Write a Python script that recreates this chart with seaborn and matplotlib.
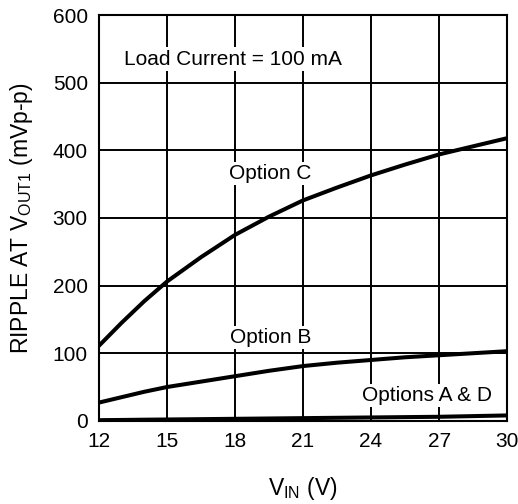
import matplotlib
matplotlib.use("Agg")
import matplotlib.pyplot as plt
import seaborn as sns
import pandas as pd

vin = [12, 13, 14, 15, 16.5, 18, 19.5, 21, 22.5, 24, 25.5, 27, 28.5, 30]
option_c = [111, 145, 177, 206, 242, 275, 302, 326, 345, 363, 379, 394, 406, 418]
option_b = [27, 35, 43, 50, 58, 66, 74, 81, 86, 90, 94, 97, 100, 103]
option_ad = [1, 1.3, 1.7, 2, 2.5, 3, 3.5, 4, 4.5, 5, 5.5, 6, 7, 8]

x_ticks = [12, 15, 18, 21, 24, 27, 30]
y_ticks = [0, 100, 200, 300, 400, 500, 600]

sns.set_theme(style="white")
plt.rcParams['font.family'] = ['Liberation Sans', 'DejaVu Sans']
plt.rcParams['mathtext.fontset'] = 'custom'
plt.rcParams['mathtext.rm'] = 'Liberation Sans'
plt.rcParams['mathtext.it'] = 'Liberation Sans'
plt.rcParams['text.color'] = 'black'
plt.rcParams['axes.labelcolor'] = 'black'

df = pd.concat([
    pd.DataFrame({"vin": vin, "ripple": option_c, "series": "Option C"}),
    pd.DataFrame({"vin": vin, "ripple": option_b, "series": "Option B"}),
    pd.DataFrame({"vin": vin, "ripple": option_ad, "series": "Options A & D"}),
])

fig = plt.figure(figsize=(5.18, 5.04), dpi=100)
ax = fig.add_axes([0.191, 0.165, 0.788, 0.805])

sns.lineplot(data=df, x="vin", y="ripple", units="series", estimator=None,
             color="black", linewidth=2.9, ax=ax, legend=False, zorder=3)

ax.set_xlim(12, 30)
ax.set_ylim(0, 600)
ax.set_xticks(x_ticks)
ax.set_yticks(y_ticks)
ax.set_xticklabels([str(t) for t in x_ticks])
ax.set_yticklabels([str(t) for t in y_ticks])
ax.grid(True, color="black", linewidth=1.4)
ax.set_axisbelow(True)
for s in ax.spines.values():
    s.set_color("black")
    s.set_linewidth(1.5)
ax.tick_params(axis="both", length=0, pad=8, labelsize=15, colors="black")

ax.set_xlabel(r"V$_{\mathrm{IN}}$ (V)", fontsize=16.5, labelpad=17, color="black")
ax.set_ylabel(r"RIPPLE AT V$_{\mathrm{OUT1}}$ (mVp-p)", fontsize=16.5, labelpad=13, color="black")

bbox = dict(facecolor="white", edgecolor="none", pad=1.5)
fs = 15
ax.text(13.1, 535, "Load Current = 100 mA", fontsize=fs, ha="left", va="center", color="black", bbox=bbox, zorder=4)
ax.text(19.57, 366, "Option C", fontsize=fs, ha="center", va="center", color="black", bbox=bbox, zorder=4)
ax.text(19.57, 123, "Option B", fontsize=fs, ha="center", va="center", color="black", bbox=bbox, zorder=4)
ax.text(26.46, 38, "Options A & D", fontsize=fs, ha="center", va="center", color="black", bbox=bbox, zorder=4)

fig.savefig("out.png", dpi=100)
